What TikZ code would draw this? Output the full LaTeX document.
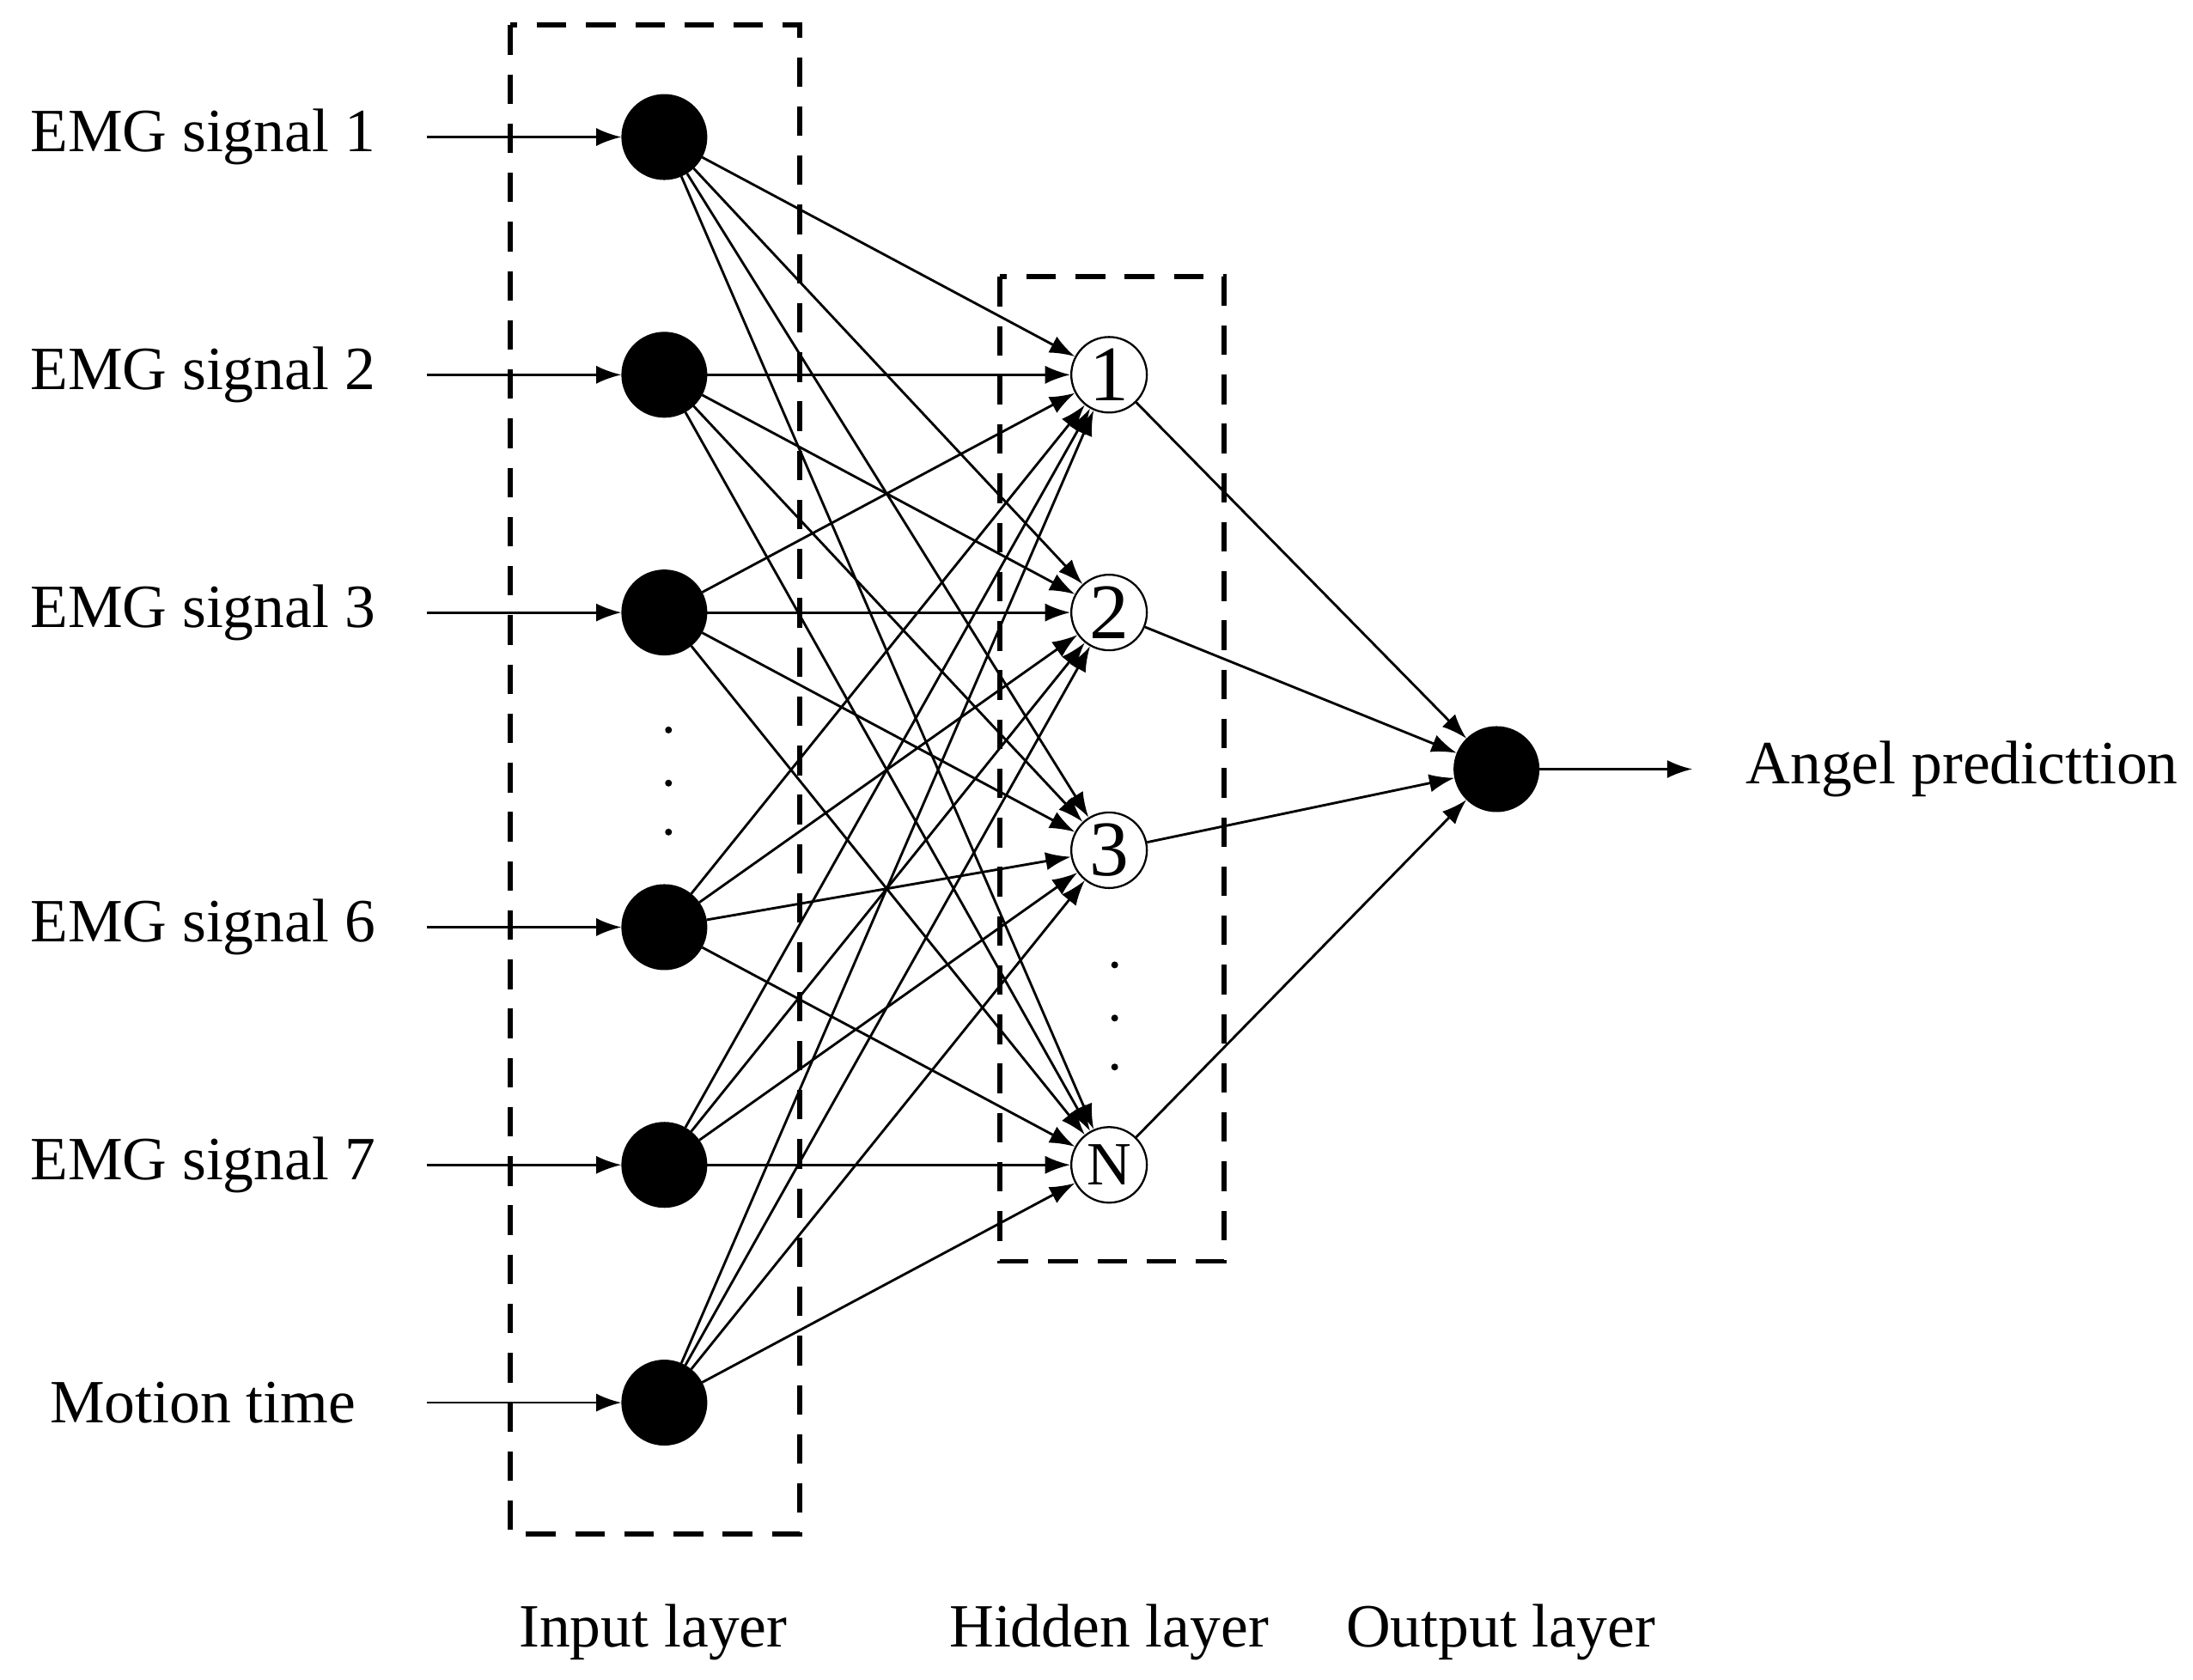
\documentclass[tikz,border=0pt]{standalone}
\usepackage{fontspec}
\setmainfont{Liberation Serif}
\usetikzlibrary{arrows.meta}

\tikzset{
  neuron/.style={circle,fill=black,draw=black,minimum size=0.6cm,inner sep=0pt},
  hidden/.style={circle,fill=white,draw=black,minimum size=0.54cm,inner sep=0pt,font=\fontsize{16}{16}\selectfont},
  conn/.style={-{Latex[length=1.8mm,width=1.3mm]},line width=0.5pt},
  layerbox/.style={dashed,line width=1pt,dash pattern=on 6pt off 4pt},
  lbl/.style={font=\fontsize{12.5}{13}\selectfont}
}

\begin{document}
\begin{tikzpicture}[x=0.01cm,y=-0.01cm]
    \useasboundingbox (0,0) rectangle (1568,1201);
    % layer boxes
    \draw[layerbox] (365,18) rectangle (572,1097);
    \draw[layerbox] (715,198) rectangle (875,902);
    % input layer
    \foreach \i/\y/\t in {1/98/EMG signal 1,2/268/EMG signal 2,3/438/EMG signal 3,
                          4/663/EMG signal 6,5/833/EMG signal 7,6/1003/Motion time} {
        \node[neuron] (in\i) at (475,\y) {};
        \node[lbl] (txt\i) at (145,\y) {\t};
        \coordinate (src\i) at (305,\y);
        \draw[conn] (src\i) -- (in\i);
    }
    % hidden layer
    \foreach \j/\y/\t in {1/268/1,2/438/2,3/608/3} {
        \node[hidden] (hid\j) at (793,\y) {\t};
    }
    \node[hidden,font=\fontsize{12.5}{13}\selectfont] (hid4) at (793,833) {N};
    \node[neuron] (out) at (1070,550) {};
    % connections
    \foreach \i in {1,...,6}
        \foreach \j in {1,...,4}
            \draw[conn] (in\i) -- (hid\j);
    \foreach \j in {1,...,4}
        \draw[conn] (hid\j) -- (out);
    \coordinate (dst) at (1210,550);
    \draw[conn] (out) -- (dst);
    \node[lbl,anchor=west] (res) at (1236,550) {Angel predicttion};
    % dots
    \foreach \y in {522,560,595} \fill (478,\y) circle (0.7pt);
    \foreach \y in {690,728,763} \fill (797,\y) circle (0.7pt);
    % layer names
    \node[lbl] (nin) at (467,1167) {Input layer};
    \node[lbl] (nhid) at (793,1167) {Hidden layer};
    \node[lbl] (nout) at (1073,1167) {Output layer};
\end{tikzpicture}
\end{document}
